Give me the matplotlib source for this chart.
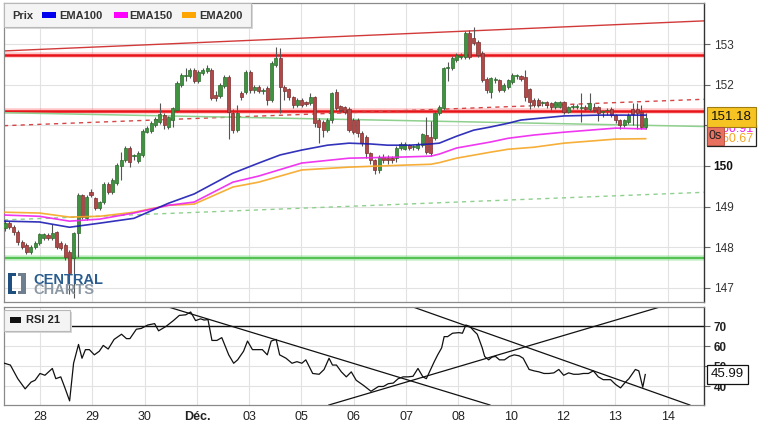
import matplotlib
matplotlib.use('Agg')
import matplotlib.pyplot as plt
from matplotlib.patches import Rectangle
from matplotlib import font_manager

# ---------------- data ----------------
opens = [148.47, 148.59, 148.50, 148.37, 148.12, 148.05, 147.88, 148.00, 148.10, 148.22,
         148.30, 148.22, 148.37, 148.10, 148.05, 147.88, 147.73, 148.34, 149.28, 148.72,
         149.35, 149.20, 148.96, 149.10, 149.55, 149.35, 149.58, 150.00, 150.14, 150.44,
         150.24, 150.12, 150.27, 150.84, 150.86, 151.00, 151.08, 151.25, 150.96, 151.13,
         151.37, 151.99, 152.22, 152.21, 152.36, 152.09, 152.29, 152.33, 152.36, 151.74,
         151.72, 151.96, 152.19, 151.30, 150.88, 151.80, 151.82, 152.31, 151.87, 151.94,
         151.85, 151.92, 151.62, 152.48, 152.66, 151.94, 151.89, 151.69, 151.50, 151.62,
         151.57, 151.55, 151.69, 151.13, 151.08, 150.88, 151.13, 151.82, 151.47, 151.45,
         151.40, 151.13, 151.13, 150.81, 150.71, 150.31, 150.14, 149.90, 150.22, 150.20,
         150.20, 150.20, 150.44, 150.42, 150.51, 150.46, 150.44, 150.51, 150.76, 150.71,
         150.68, 151.30, 151.42, 152.40, 152.40, 152.60, 152.68, 152.68, 153.27, 153.15,
         153.05, 152.78, 152.14, 151.82, 152.11, 152.11, 151.87, 151.94, 152.06, 152.21,
         152.21, 152.19, 151.89, 151.62, 151.62, 151.55, 151.57, 151.55, 151.45, 151.45,
         151.57, 151.33, 151.45, 151.45, 151.42, 151.45, 151.40, 151.45, 151.45, 151.33,
         151.37, 151.40, 151.25, 151.13, 151.00, 151.08, 151.40, 151.40, 151.33, 150.96]
closes = [148.59, 148.50, 148.37, 148.12, 148.00, 147.88, 148.00, 148.10, 148.32, 148.32,
          148.22, 148.35, 148.00, 147.98, 147.75, 147.36, 148.34, 149.28, 148.74, 149.23,
          149.28, 148.96, 149.10, 149.55, 149.35, 149.65, 150.02, 150.14, 150.44, 150.10,
          150.24, 150.32, 150.86, 150.93, 151.05, 151.15, 151.28, 151.00, 151.20, 151.42,
          152.04, 152.24, 152.24, 152.36, 152.09, 152.31, 152.36, 152.41, 151.67, 151.67,
          151.99, 152.19, 151.33, 150.88, 151.30, 151.70, 152.31, 151.87, 151.94, 151.85,
          151.85, 151.62, 152.53, 152.66, 151.94, 151.85, 151.69, 151.50, 151.62, 151.50,
          151.52, 151.69, 151.05, 150.96, 150.88, 151.13, 151.79, 151.42, 151.37, 151.33,
          150.88, 150.83, 150.81, 150.56, 150.31, 150.14, 149.90, 150.22, 150.14, 150.14,
          150.14, 150.44, 150.54, 150.54, 150.44, 150.46, 150.54, 150.78, 150.34, 150.31,
          151.30, 151.45, 152.40, 152.43, 152.66, 152.73, 152.68, 153.27, 152.68, 153.02,
          152.73, 152.11, 151.87, 152.16, 152.11, 151.87, 152.00, 152.11, 152.24, 152.21,
          152.14, 151.69, 151.57, 151.50, 151.50, 151.55, 151.50, 151.45, 151.57, 151.57,
          151.33, 151.45, 151.45, 151.45, 151.42, 151.40, 151.55, 151.37, 151.30, 151.33,
          151.37, 151.25, 151.13, 151.00, 151.13, 151.25, 151.28, 151.30, 150.96, 151.18]
highs = [148.66, 148.64, 148.55, 148.42, 148.18, 148.10, 148.05, 148.15, 148.36, 148.36,
         148.34, 148.57, 148.40, 148.14, 148.10, 147.92, 148.38, 149.34, 149.32, 149.28,
         149.42, 149.24, 149.14, 149.60, 149.60, 149.70, 150.06, 150.34, 150.50, 150.48,
         150.30, 150.36, 150.90, 150.98, 151.10, 151.20, 151.55, 151.30, 151.24, 151.46,
         152.08, 152.28, 152.40, 152.40, 152.40, 152.35, 152.40, 152.48, 152.40, 151.85,
         152.03, 152.23, 152.23, 151.40, 151.50, 151.85, 152.36, 152.35, 151.98, 151.98,
         151.92, 151.96, 152.58, 152.93, 152.90, 151.98, 151.93, 151.73, 151.66, 151.66,
         151.60, 151.80, 151.73, 151.17, 151.12, 151.17, 151.83, 151.90, 151.50, 151.48,
         151.45, 151.17, 151.17, 150.85, 150.75, 150.35, 150.18, 150.26, 150.30, 150.26,
         150.24, 150.48, 150.58, 150.58, 150.55, 150.52, 150.58, 150.82, 151.20, 151.10,
         151.34, 151.50, 152.44, 152.55, 152.70, 152.77, 152.78, 153.31, 153.35, 153.42,
         153.09, 152.82, 152.18, 152.20, 152.20, 152.15, 152.04, 152.15, 152.28, 152.27,
         152.25, 152.36, 151.93, 151.66, 151.66, 151.60, 151.60, 151.58, 151.60, 151.60,
         151.60, 151.48, 151.52, 151.52, 151.80, 151.50, 151.79, 151.55, 151.48, 151.38,
         151.42, 151.44, 151.28, 151.16, 151.16, 151.30, 151.55, 151.55, 151.50, 151.30]
lows = [148.40, 148.45, 148.30, 148.05, 147.95, 147.82, 147.82, 147.95, 148.05, 148.18,
        148.18, 148.18, 147.95, 147.92, 147.68, 146.85, 146.75, 147.75, 148.70, 148.68,
        149.24, 148.92, 148.92, 149.06, 149.30, 149.30, 149.54, 149.65, 150.10, 149.97,
        150.14, 150.08, 150.22, 150.80, 150.82, 150.96, 151.04, 150.90, 150.90, 150.95,
        151.33, 151.95, 152.10, 152.17, 152.05, 152.05, 152.25, 152.29, 151.62, 151.60,
        151.68, 151.92, 150.66, 150.80, 150.84, 151.62, 151.78, 151.80, 151.80, 151.80,
        151.78, 151.50, 151.58, 152.44, 151.30, 151.62, 151.62, 151.42, 151.46, 151.46,
        151.48, 151.50, 150.96, 150.56, 150.70, 150.84, 151.05, 151.38, 151.32, 151.28,
        150.84, 150.78, 150.70, 150.50, 150.20, 150.05, 149.80, 149.82, 150.08, 150.05,
        150.08, 150.10, 150.40, 150.38, 150.40, 150.40, 150.40, 150.47, 150.30, 150.25,
        150.64, 151.26, 151.38, 152.10, 152.36, 152.56, 152.62, 152.64, 152.64, 152.98,
        152.69, 152.07, 151.80, 151.67, 152.05, 151.82, 151.83, 151.90, 152.02, 152.15,
        152.10, 151.60, 151.40, 151.46, 151.45, 151.48, 151.42, 151.38, 151.40, 151.42,
        151.28, 151.30, 151.40, 151.40, 151.08, 151.36, 151.36, 151.33, 151.10, 151.20,
        151.25, 151.20, 151.05, 150.92, 150.95, 151.04, 151.00, 150.90, 150.90, 150.92]

# EMA readings (candle index, value)
ema_idx = [0, 8, 15, 22, 30, 38, 44, 53, 59, 64, 69, 75, 80, 85, 89, 94, 99, 101, 105,
           109, 113, 117, 120, 130, 138, 149]
ema100 = [148.64, 148.62, 148.49, 148.59, 148.71, 149.08, 149.31, 149.82, 150.07, 150.27,
          150.39, 150.51, 150.56, 150.54, 150.51, 150.51, 150.54, 150.56, 150.73, 150.88,
          150.96, 151.05, 151.13, 151.23, 151.25, 151.25]
ema_idx2 = [0, 8, 15, 22, 30, 38, 44, 53, 59, 69, 80, 93, 99, 101, 105, 113, 117, 123,
            130, 142, 149]
ema150 = [148.79, 148.76, 148.64, 148.69, 148.84, 149.03, 149.11, 149.60, 149.75, 150.07,
          150.19, 150.22, 150.24, 150.29, 150.44, 150.59, 150.68, 150.76, 150.83, 150.93,
          150.91]
ema200 = [148.86, 148.84, 148.74, 148.76, 148.86, 149.03, 149.06, 149.48, 149.60, 149.90,
          149.97, 150.02, 150.04, 150.08, 150.19, 150.34, 150.41, 150.46, 150.56, 150.66,
          150.67]

# RSI 21 readings (candle-time, value)
rsi_t = [-0.13, 1.25, 2.97, 4.69, 6.07, 6.99, 8.14, 9.29, 11.01, 11.82, 12.97, 13.89, 15.03,
         15.95, 17.10, 17.91, 18.71, 19.63, 20.78, 21.93, 22.85, 24.0, 25.37, 27.10, 28.25,
         29.05, 30.55, 31.7, 33.19, 34.8, 35.72, 37.44, 39.16, 40.54, 42.04, 43.18, 44.33,
         45.48, 46.29, 47.21, 48.13, 49.27, 50.42, 52.03, 53.18, 54.1, 55.48, 56.4, 57.55,
         58.7, 59.85, 61.0, 61.91, 63.06, 63.87, 65.36, 66.74, 67.89, 69.04, 69.96, 71.56,
         73.06, 74.21, 75.36, 76.16, 77.08, 78.23, 79.38, 80.53, 81.68, 83.4, 85.12, 86.85,
         88.0, 89.14, 90.29, 91.44, 92.59, 93.74, 94.89, 96.04, 97.19, 97.99, 98.91, 99.83,
         100.63, 101.55, 102.13, 102.93, 104.08, 105.58, 106.38, 107.18, 108.1, 109.02,
         109.83, 110.4, 110.98, 111.55, 112.47, 113.27, 114.08, 115.0, 116.15, 117.3,
         118.44, 119.59, 120.51, 121.89, 123.04, 124.19, 125.34, 126.49, 127.64, 128.79,
         129.93, 131.08, 132.23, 133.38, 134.53, 135.68, 136.83, 137.98, 139.13, 140.85,
         142.0, 143.15, 144.3, 145.1, 146.6, 147.4, 148.32, 148.9]
rsi_v = [51.6, 50.7, 43.9, 38.8, 42.2, 43.1, 46.5, 45.6, 49.0, 43.9, 44.8, 39.6, 32.8,
         51.6, 61.0, 54.1, 58.4, 58.4, 55.8, 57.6, 60.5, 58.7, 63.5, 66.1, 63.9, 63.9, 68.6,
         69.0, 70.7, 71.4, 67.8, 70.0, 72.9, 75.5, 75.8, 77.2, 72.9, 73.8, 73.2, 73.4, 63.0,
         63.0, 64.4, 55.8, 51.6, 53.3, 57.6, 62.7, 58.4, 58.4, 58.4, 55.8, 62.7, 63.5, 55.8,
         54.1, 51.6, 52.4, 51.6, 53.3, 46.5, 46.1, 48.5, 54.1, 50.7, 50.7, 47.3, 44.8, 47.3,
         43.1, 40.5, 37.6, 40.0, 40.0, 41.4, 41.7, 43.9, 44.8, 44.8, 45.1, 49.0, 44.8, 43.9,
         48.2, 52.4, 55.8, 59.3, 64.9, 64.9, 66.6, 66.9, 66.6, 70.7, 70.0, 67.8, 66.1, 62.7,
         59.3, 55.0, 53.3, 54.7, 55.0, 53.3, 53.3, 55.0, 55.8, 55.3, 54.1, 48.5, 47.8, 47.3,
         46.5, 46.5, 46.8, 48.5, 45.6, 46.8, 46.1, 46.1, 46.5, 46.5, 47.8, 44.8, 43.4, 43.4,
         41.0, 39.3, 42.2, 43.9, 48.5, 47.8, 39.6, 45.99]

# support / resistance lines: (t0, p0, t1, p1)
red_levels = [152.73, 151.35]
green_levels = [147.73]
red_trend = (-0.23, 152.83, 162.56, 153.57)
red_dashed = (-0.23, 150.99, 162.56, 151.64)
green_trend = (-0.23, 151.31, 162.56, 150.97)
green_dashed = (-0.23, 148.67, 162.56, 149.35)
rsi_lines = [((38.0, 79.7), (112.7, 30.8)), ((94.9, 79.7), (159.2, 30.8)),
             ((75.4, 30.8), (152.3, 79.7))]

day_labels = ['28', '29', '30', 'Déc.', '03', '05', '06', '07', '08', '10', '12', '13', '14']
price_ticks = [147, 148, 149, 150, 151, 152, 153]
rsi_ticks = [40, 50, 60, 70]

# ---------------- layout ----------------
W, H = 774, 425
names = {f.name for f in font_manager.fontManager.ttflist}
NARROW = 'Liberation Sans Narrow' if 'Liberation Sans Narrow' in names else 'Liberation Sans'
plt.rcParams['font.family'] = ['Liberation Sans', 'DejaVu Sans']

fig = plt.figure(figsize=(W / 100, H / 100), dpi=100, facecolor='white')


def fx(px):
    return px / W


def fy(py):
    return 1 - py / H


ax = fig.add_axes([fx(4), fy(302), 700 / W, 299 / H])
ax2 = fig.add_axes([fx(4), fy(405), 700 / W, 98 / H])

first_tick, per_day = 8.14, 12.163
tick_pos = [first_tick + k * per_day for k in range(len(day_labels))]
xlim = (-0.23, 162.56)

for a in (ax, ax2):
    a.set_xlim(*xlim)
    a.set_axisbelow(True)
    a.grid(True, color='#e2e2e2', lw=0.8)
    a.set_xticks(tick_pos)
    a.yaxis.tick_right()
    a.tick_params(axis='y', length=4, color='#666666', pad=3)
    for s in ('left', 'top', 'bottom'):
        a.spines[s].set_color('#8a8a8a')
        a.spines[s].set_linewidth(0.9)
    a.spines['right'].set_color('#333333')
    a.spines['right'].set_linewidth(1.0)

ax.tick_params(axis='x', length=0, labelbottom=False)
ax.set_ylim(146.65, 154.01)
ax.set_yticks(price_ticks)
ax.set_yticklabels([str(v) for v in price_ticks], fontsize=8.5, color='#333333')
for lab in ax.get_yticklabels():
    if lab.get_text() == '150':
        lab.set_fontweight('bold')
        lab.set_color('#111111')

# lines in main panel
for lv in red_levels:
    ax.axhline(lv, color='#ff6060', lw=4, alpha=0.35, zorder=2)
    ax.axhline(lv, color='#e8141a', lw=1.8, zorder=2)
for lv in green_levels:
    ax.axhline(lv, color='#88dd88', lw=4, alpha=0.45, zorder=2)
    ax.axhline(lv, color='#55c255', lw=1.6, zorder=2)
ax.plot([red_trend[0], red_trend[2]], [red_trend[1], red_trend[3]], color='#d23a3a', lw=1.0, zorder=2)
ax.plot([red_dashed[0], red_dashed[2]], [red_dashed[1], red_dashed[3]], color='#d64545', lw=1.0,
        ls=(0, (3, 3)), zorder=2)
ax.plot([green_trend[0], green_trend[2]], [green_trend[1], green_trend[3]], color='#8fd08f', lw=1.1, zorder=2)
ax.plot([green_dashed[0], green_dashed[2]], [green_dashed[1], green_dashed[3]], color='#8fd08f', lw=1.0,
        ls=(0, (3, 3)), zorder=2)

# candles
idx = list(range(len(closes)))
up_col, up_edge = '#3f923f', '#2c6a2c'
dn_col, dn_edge = '#b04848', '#7a2e2e'
ax.vlines(idx, lows, highs, color='#555555', lw=0.8, zorder=3)
bottoms = [min(o, c) for o, c in zip(opens, closes)]
heights = [max(abs(c - o), 0.018) for o, c in zip(opens, closes)]
cols = [up_col if c >= o else dn_col for o, c in zip(opens, closes)]
edges = [up_edge if c >= o else dn_edge for o, c in zip(opens, closes)]
ax.bar(idx, heights, bottom=bottoms, width=0.72, color=cols, edgecolor=edges, lw=0.5, zorder=3.5)

# EMAs
ax.plot(ema_idx2, ema200, color='#f5a623', lw=1.2, alpha=0.9, zorder=4)
ax.plot(ema_idx2, ema150, color='#ee22ee', lw=1.2, alpha=0.9, zorder=4)
ax.plot(ema_idx, ema100, color='#1c1cb4', lw=1.2, alpha=0.9, zorder=4)

# right value boxes (inside ax so that ordering is controlled)
wbox = Rectangle((fx(707), fy(146)), 49 / W, 21 / H, transform=fig.transFigure,
                 fc='white', ec='#222222', lw=0.9, zorder=20, clip_on=False)
ax.add_artist(wbox)
ax.annotate(f'{ema150[-1]:.2f}', xy=(1.0, ema150[-1]), xycoords=('axes fraction', 'data'),
            xytext=(8, 0), textcoords='offset points', ha='left', va='center',
            fontsize=9, color='#ee22ee', annotation_clip=False, zorder=21)
ax.annotate(f'{ema200[-1]:.2f}', xy=(1.0, ema200[-1]), xycoords=('axes fraction', 'data'),
            xytext=(8, 0), textcoords='offset points', ha='left', va='center',
            fontsize=9, color='#f5a623', annotation_clip=False, zorder=21)
ax.annotate(f'{closes[-1]:.2f}', xy=(1.0, closes[-1]), xycoords=('axes fraction', 'data'),
            xytext=(5, 1), textcoords='offset points', ha='left', va='center',
            fontsize=9.5, color='#111111', annotation_clip=False, zorder=22,
            bbox=dict(boxstyle='square,pad=0.3', fc='#f5c322', ec='#a07e10', lw=0.8))
sbox = Rectangle((fx(707), fy(145)), 17 / W, 18 / H, transform=fig.transFigure,
                 fc='#e8705f', ec='#b04a3a', lw=0.6, zorder=23, clip_on=False)
ax.add_artist(sbox)
ax.text(fx(715.5), fy(136), '0s', transform=fig.transFigure, fontsize=9, ha='center',
        va='center', color='#222222', zorder=24, clip_on=False)

# legend box
fig.add_artist(Rectangle((fx(6), fy(29)), 247 / W, 24 / H, transform=fig.transFigure,
                         fc='#d8d8d8', ec='none', zorder=18))
fig.add_artist(Rectangle((fx(4), fy(27)), 247 / W, 24 / H, transform=fig.transFigure,
                         fc='#f4f4f4', ec='#b8b8b8', lw=0.8, zorder=19))
fig.text(fx(12), fy(16), 'Prix', fontsize=8, weight='bold', va='center', color='#333333', zorder=20)
for x0, w, c, lab, xt in [(42, 14, '#0000ee', 'EMA100', 59), (114, 14, '#ff00ff', 'EMA150', 129),
                          (182, 14, '#ffa500', 'EMA200', 199)]:
    fig.add_artist(Rectangle((fx(x0), fy(18)), w / W, 6 / H, transform=fig.transFigure,
                             fc=c, ec='none', zorder=20))
    fig.text(fx(xt), fy(16), lab, fontsize=8, weight='bold', va='center', color='#333333', zorder=20)

# logo
logo_dark, logo_grey = '#1f4f7f', '#6f7f8f'
for (x0, y0, w, h, c) in [(8, 294, 4, 21, logo_dark), (8, 276, 8, 3, logo_dark), (8, 294, 8, 3, logo_dark),
                          (21, 294, 5, 21, logo_grey), (18, 276, 8, 3, logo_grey), (18, 294, 8, 3, logo_grey)]:
    fig.add_artist(Rectangle((fx(x0), fy(y0)), w / W, h / H, transform=fig.transFigure,
                             fc=c, ec='none', zorder=15))
fig.text(fx(33), fy(279.5), 'CENTRAL', fontsize=10.5, weight='bold', va='center', color='#2a5d8f', zorder=15)
fig.text(fx(33), fy(290.5), 'CHARTS', fontsize=10.5, weight='bold', va='center', color='#8c98a3', zorder=15)

# ---------------- RSI panel ----------------
ax2.set_ylim(30.75, 79.7)
ax2.set_yticks(rsi_ticks)
ax2.set_yticklabels([str(v) for v in rsi_ticks], fontsize=8.5, weight='bold', color='#222222')
ax2.set_xticklabels(day_labels, fontsize=9, family=NARROW, color='#222222')
for lab in ax2.get_xticklabels():
    if lab.get_text() == 'Déc.':
        lab.set_fontweight('bold')
ax2.tick_params(axis='x', length=0, pad=4)
ax2.axhline(70, color='#111111', lw=1.0, zorder=2)
for p0, p1 in rsi_lines:
    ax2.axline(p0, p1, color='#111111', lw=0.9, zorder=2)
ax2.plot(rsi_t, rsi_v, color='#111111', lw=0.9, zorder=3)
ax2.annotate(f'{rsi_v[-1]:.2f}', xy=(1.0, rsi_v[-1]), xycoords=('axes fraction', 'data'),
             xytext=(5, 0), textcoords='offset points', ha='left', va='center',
             fontsize=9.5, color='#111111', annotation_clip=False, zorder=22,
             bbox=dict(boxstyle='square,pad=0.3', fc='white', ec='#111111', lw=0.9))

# RSI legend box
fig.add_artist(Rectangle((fx(6), fy(333)), 66 / W, 21 / H, transform=fig.transFigure,
                         fc='#d8d8d8', ec='none', zorder=18))
fig.add_artist(Rectangle((fx(4), fy(331)), 66 / W, 21 / H, transform=fig.transFigure,
                         fc='#f4f4f4', ec='#b8b8b8', lw=0.8, zorder=19))
fig.add_artist(Rectangle((fx(10), fy(323)), 11 / W, 6 / H, transform=fig.transFigure,
                         fc='#111111', ec='none', zorder=20))
fig.text(fx(26), fy(320), 'RSI 21', fontsize=8, weight='bold', va='center', color='#222222', zorder=20)

fig.savefig('out.png', dpi=100, facecolor='white')
